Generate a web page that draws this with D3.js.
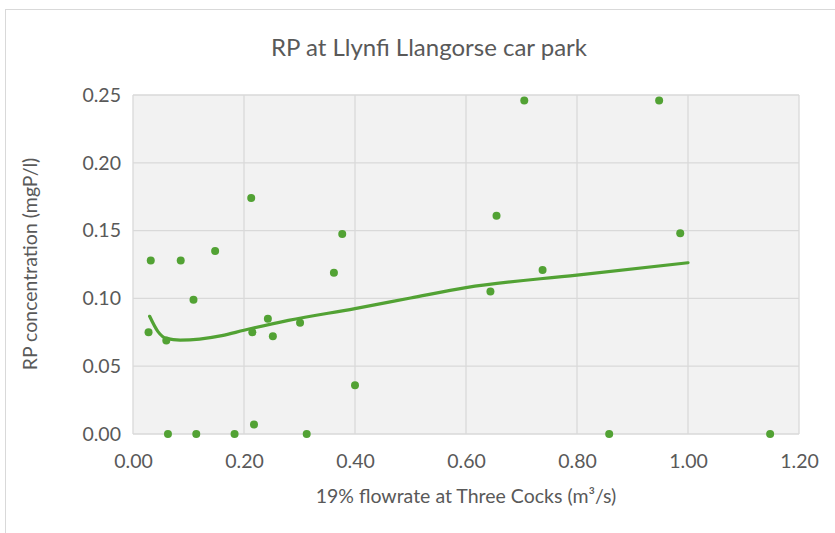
<!DOCTYPE html>
<html>
<head>
<meta charset="utf-8">
<script src="https://cdn.jsdelivr.net/npm/d3@7"></script>
<style>
    body { margin: 0; background: #fff; }
    svg { display: block; font-family: Lato, "Open Sans", sans-serif; }
</style>
</head>
<body>
<div id="chart"></div>
<script>
// flow (m3/s) and RP concentration (mgP/l)
const flowValues = [0.032, 0.086, 0.148, 0.213, 0.377, 0.362, 0.705, 0.948, 0.655, 0.986,
    0.738, 0.644, 0.028, 0.060, 0.109, 0.215, 0.243, 0.252, 0.301, 0.400,
    0.218, 0.063, 0.114, 0.183, 0.313, 0.858, 1.148];
const rpValues = [0.128, 0.128, 0.135, 0.174, 0.1475, 0.119, 0.246, 0.246, 0.161, 0.148,
    0.121, 0.105, 0.075, 0.069, 0.099, 0.075, 0.085, 0.072, 0.082, 0.036,
    0.007, 0, 0, 0, 0, 0, 0];

// trendline as drawn in the chart
const trendX = [0.030, 0.045, 0.060, 0.085, 0.120, 0.160, 0.200, 0.280, 0.400, 0.500, 0.600, 0.800, 1.000];
const trendY = [0.0868, 0.0755, 0.0705, 0.0693, 0.0700, 0.0725, 0.0765, 0.0838, 0.0925, 0.1003, 0.1080, 0.1172, 0.1263];

const xTicks = [0, 0.2, 0.4, 0.6, 0.8, 1.0, 1.2];
const yTicks = [0, 0.05, 0.10, 0.15, 0.20, 0.25];

const width = 835;
const height = 533;
const green = "#52a234";
const gridColor = "#d9d9d9";
const textColor = "#595959";

const svg = d3.select("#chart")
    .append("svg")
    .attr("width", width)
    .attr("height", height);

// chart area border
svg.append("rect")
    .attr("x", 5.5)
    .attr("y", 9.5)
    .attr("width", 860)
    .attr("height", 560)
    .attr("fill", "#fff")
    .attr("stroke", gridColor);

const plot = { left: 133, right: 799, top: 95, bottom: 434 };

const x = d3.scaleLinear().domain([0, 1.2]).range([plot.left, plot.right]);
const y = d3.scaleLinear().domain([0, 0.25]).range([plot.bottom, plot.top]);

svg.append("rect")
    .attr("x", plot.left)
    .attr("y", plot.top)
    .attr("width", plot.right - plot.left)
    .attr("height", plot.bottom - plot.top)
    .attr("fill", "#f2f2f2");

// gridlines
svg.append("g")
    .selectAll("line")
    .data(xTicks)
    .enter()
    .append("line")
    .attr("x1", d => x(d)).attr("x2", d => x(d))
    .attr("y1", plot.top).attr("y2", plot.bottom)
    .attr("stroke", gridColor)
    .attr("stroke-width", 1.3);

svg.append("g")
    .selectAll("line")
    .data(yTicks)
    .enter()
    .append("line")
    .attr("x1", plot.left).attr("x2", plot.right)
    .attr("y1", d => y(d)).attr("y2", d => y(d))
    .attr("stroke", gridColor)
    .attr("stroke-width", 1.3);

// axes (labels only)
const xAxis = svg.append("g")
    .attr("transform", `translate(0,${plot.bottom})`)
    .call(d3.axisBottom(x).tickValues(xTicks).tickFormat(d3.format(".2f")).tickSize(0).tickPadding(20));
const yAxis = svg.append("g")
    .attr("transform", `translate(${plot.left},0)`)
    .call(d3.axisLeft(y).tickValues(yTicks).tickFormat(d3.format(".2f")).tickSize(0).tickPadding(12));

[xAxis, yAxis].forEach(a => {
    a.select(".domain").remove();
    a.selectAll("text")
        .style("font-family", "Lato, 'Open Sans', sans-serif")
        .style("font-size", "19.5px")
        .attr("fill", textColor);
});

// trendline
const trend = trendX.map((d, i) => [d, trendY[i]]);
svg.append("path")
    .datum(trend)
    .attr("fill", "none")
    .attr("stroke", green)
    .attr("stroke-width", 3.2)
    .attr("stroke-linecap", "round")
    .attr("d", d3.line().x(d => x(d[0])).y(d => y(d[1])).curve(d3.curveMonotoneX));

// points
svg.append("g")
    .selectAll("circle")
    .data(flowValues.map((d, i) => [d, rpValues[i]]))
    .enter()
    .append("circle")
    .attr("cx", d => x(d[0]))
    .attr("cy", d => y(d[1]))
    .attr("r", 4)
    .attr("fill", green);

// titles
svg.append("text")
    .attr("x", 429)
    .attr("y", 56)
    .attr("text-anchor", "middle")
    .style("font-size", "24px")
    .attr("fill", textColor)
    .text("RP at Llynfi Llangorse car park");

svg.append("text")
    .attr("x", 466)
    .attr("y", 503)
    .attr("text-anchor", "middle")
    .style("font-size", "19.5px")
    .attr("fill", textColor)
    .text("19% flowrate at Three Cocks (m³/s)");

svg.append("text")
    .attr("transform", "translate(37,264) rotate(-90)")
    .attr("text-anchor", "middle")
    .style("font-size", "19.5px")
    .attr("fill", textColor)
    .text("RP concentration (mgP/l)");
</script>
</body>
</html>
